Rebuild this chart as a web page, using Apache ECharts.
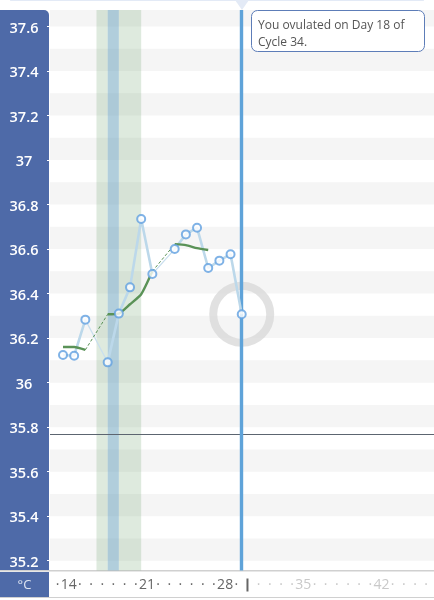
<!DOCTYPE html>
<html>
<head>
<meta charset="utf-8">
<style>html,body{margin:0;padding:0;background:#fff}#main{width:434px;height:600px}</style>
<script src="https://cdn.jsdelivr.net/npm/echarts@6/dist/echarts.min.js"></script>
</head>
<body>
<div id="main"></div>
<script>
var tempDays = [14, 15, 16, 18, 19, 20, 21, 22, 24, 25, 26, 27, 28, 29, 30];
var temps = [36.124, 36.121, 36.283, 36.091, 36.31, 36.428, 36.735, 36.488, 36.6, 36.666, 36.696, 36.515, 36.548, 36.577, 36.307];
var trendDays = [14, 15, 16, 18, 19, 20, 21, 22, 24, 25, 26, 27];
var trendTemps = [36.16, 36.16, 36.147, 36.307, 36.31, 36.352, 36.397, 36.5, 36.622, 36.618, 36.604, 36.596];
var yTicks = [35.2, 35.4, 35.6, 35.8, 36, 36.2, 36.4, 36.6, 36.8, 37, 37.2, 37.4, 37.6];
var stripeBottoms = [35.2, 35.4, 35.6, 35.8, 36, 36.2, 36.4, 36.6, 36.8, 37, 37.2, 37.4, 37.6];
var fertileRanges = [[17, 18], [19, 21]];
var ovulationRange = [18, 19];
var ovulationLineDay = 30;
var coverline = 35.765;
var todayDay = 30;
var todayTemp = 36.307;

var blue = '#4e6aa8';

// splits a day series in two: runs of consecutive days, and the links over missing days
function splitRuns(days, vals) {
    var solid = [], link = [];
    for (var i = 0; i < days.length; i++) {
        if (i > 0 && days[i] - days[i - 1] > 1) {
            solid.push([days[i], null]);
            link.push([days[i - 1], vals[i - 1]], [days[i], vals[i]], [days[i], null]);
        }
        solid.push([days[i], vals[i]]);
    }
    return { solid: solid, link: link };
}
var tempRuns = splitRuns(tempDays, temps);
var trendRuns = splitRuns(trendDays, trendTemps);

var stripes = stripeBottoms.map(function (v) {
    return [{ yAxis: v }, { yAxis: Math.min(v + 0.1, 37.674) }];
});

var myChart = echarts.init(document.getElementById('main'), null, { renderer: 'canvas' });
var option = {
    animation: false,
    backgroundColor: '#fff',
    textStyle: { fontFamily: 'Open Sans' },
    grid: [
        { left: 50, top: 10, width: 384, height: 560.5 },
        { left: 46.4, top: 560, width: 379.8, height: 12 }
    ],
    xAxis: [
        { type: 'value', gridIndex: 0, min: 12.836, max: 47.214, show: false },
        {
            type: 'value', gridIndex: 1, min: 12, max: 46, interval: 1, z: 10,
            axisLine: { show: false },
            axisTick: { show: false },
            splitLine: { show: false },
            axisLabel: {
                margin: 13,
                verticalAlign: 'middle',
                fontSize: 14,
                color: function (v) { return v > 30 ? '#c9c9c9' : '#666'; },
                formatter: function (v) {
                    if (v < 13) return '';
                    if (v === 30) return '{bar|}';
                    return v % 7 === 0 ? String(v) : '·';
                },
                rich: {
                    bar: { width: 2, height: 13, backgroundColor: '#666' }
                }
            }
        }
    ],
    yAxis: [
        {
            type: 'value', gridIndex: 0, min: 35.156, max: 37.674, z: 10,
            axisLine: { show: false },
            splitLine: { show: false },
            axisTick: { show: true, length: 3, lineStyle: { color: '#fff' }, customValues: yTicks },
            axisLabel: {
                customValues: yTicks,
                margin: 26,
                align: 'center',
                formatter: '{t|{value}}',
                rich: {
                    t: {
                        padding: [4, 0, 0, 0],
                        color: '#fff',
                        fontSize: 14.5,
                        fontWeight: 600,
                        fontFamily: 'Open Sans'
                    }
                }
            }
        },
        { type: 'value', gridIndex: 1, min: 0, max: 1, show: false }
    ],
    graphic: [
        { type: 'rect', z: 1, shape: { x: 0, y: 10, width: 49, height: 560, r: [0, 5, 0, 0] }, style: { fill: blue } },
        { type: 'rect', z: 1, shape: { x: 0, y: 572, width: 49, height: 25 }, style: { fill: blue } },
        { type: 'rect', z: 1, shape: { x: 0, y: 570, width: 434, height: 1.5 }, style: { fill: '#d0d0d0' } },
        { type: 'rect', z: 1, shape: { x: 0, y: 597, width: 434, height: 1 }, style: { fill: '#d0d0d0' } },
        { type: 'text', z: 20, style: { x: 24.5, y: 585, text: '°C', fill: '#dfe5f2', font: '13px "Open Sans"', align: 'center', verticalAlign: 'middle' } },
        { type: 'rect', z: 1, shape: { x: 10, y: 0, width: 414, height: 1, r: 1 }, style: { fill: '#e3eaf6' } },
        { type: 'polygon', z: 1, shape: { points: [[235, 0], [249, 0], [242, 10]] }, style: { fill: '#e3eaf6' } },
        { type: 'rect', z: 100, shape: { x: 251.5, y: 10.5, width: 173, height: 41, r: 6 }, style: { fill: '#fff', stroke: '#5d7db8', lineWidth: 1 } },
        { type: 'text', z: 101, style: { x: 258, y: 17, text: 'You ovulated on Day 18 of\nCycle 34.', fill: '#555', font: '12px "Open Sans"', lineHeight: 17 } }
    ],
    series: [
        {
            name: 'stripes', type: 'line', z: 1, data: [], silent: true,
            markArea: { silent: true, itemStyle: { color: '#f5f5f5' }, data: stripes }
        },
        {
            name: 'fertile', type: 'line', z: 1, data: [], silent: true,
            markArea: {
                silent: true,
                itemStyle: { color: 'rgba(90,150,90,0.2)' },
                data: fertileRanges.map(function (r) { return [{ xAxis: r[0] }, { xAxis: r[1] }]; })
            }
        },
        {
            name: 'ovulation', type: 'line', z: 1, data: [], silent: true,
            markArea: {
                silent: true,
                itemStyle: { color: 'rgba(90,150,180,0.47)' },
                data: [[{ xAxis: ovulationRange[0] }, { xAxis: ovulationRange[1] }]]
            }
        },
        {
            name: 'coverline', type: 'line', z: 2, data: [], silent: true,
            markLine: {
                silent: true, symbol: 'none', label: { show: false },
                lineStyle: { color: '#5c6570', width: 1, type: 'solid' },
                data: [{ yAxis: coverline }]
            }
        },
        {
            name: 'today', type: 'scatter', z: 3, silent: true, symbolSize: 57,
            itemStyle: { color: 'rgba(0,0,0,0)', borderColor: '#d9d9d9', borderWidth: 8 },
            data: [[todayDay, todayTemp]]
        },
        {
            name: 'ovulationLine', type: 'line', z: 4, data: [], silent: true,
            markLine: {
                silent: true, symbol: 'none', label: { show: false },
                lineStyle: { color: '#5fa3d9', width: 3.4, type: 'solid' },
                data: [{ xAxis: ovulationLineDay }]
            }
        },
        {
            name: 'tempLink', type: 'line', z: 5, symbol: 'none', silent: true,
            lineStyle: { color: '#c9dfee', width: 1.2 },
            data: tempRuns.link
        },
        {
            name: 'temp', type: 'line', z: 5, symbol: 'none', silent: true,
            lineStyle: { color: '#bcd8ea', width: 2.6 },
            data: tempRuns.solid
        },
        {
            name: 'trendLink', type: 'line', z: 6, symbol: 'none', silent: true,
            lineStyle: { color: '#5a9257', width: 1, type: [3, 2] },
            data: trendRuns.link
        },
        {
            name: 'trend', type: 'line', z: 6, symbol: 'none', silent: true, smooth: 0.2,
            lineStyle: { color: '#5a9257', width: 2.4 },
            data: trendRuns.solid
        },
        {
            name: 'points', type: 'scatter', z: 7, silent: true, symbolSize: 8,
            itemStyle: { color: '#fff', borderColor: '#5f9fe0', borderWidth: 2 },
            data: tempDays.map(function (d, i) { return [d, temps[i]]; })
        },
        {
            name: 'footer', type: 'scatter', xAxisIndex: 1, yAxisIndex: 1, symbol: 'none', silent: true,
            data: []
        }
    ]
};
myChart.setOption(option);
</script>
</body>
</html>
